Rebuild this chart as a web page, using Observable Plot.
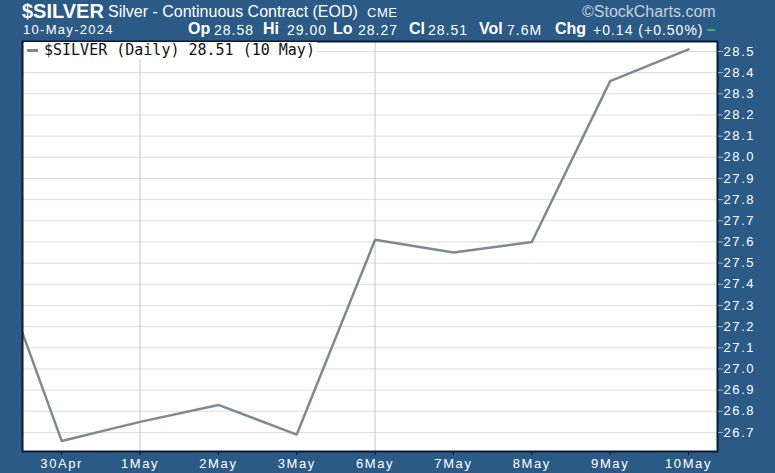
<!DOCTYPE html>
<html>
<head>
<meta charset="utf-8">
<script src="https://cdn.jsdelivr.net/npm/d3@7"></script>
<script src="https://cdn.jsdelivr.net/npm/@observablehq/plot@0.6"></script>
<style>
  html, body { margin: 0; padding: 0; background: #2b5a86; }
  #wrap { position: relative; width: 775px; height: 473px; background: #2b5a86; overflow: hidden; font-family: "Liberation Sans", Arial, sans-serif; color: #fff; }
  #header { position: relative; height: 36px; }
  .abs { position: absolute; white-space: nowrap; }
  .lab { position: absolute; white-space: nowrap; font-weight: bold; font-size: 16px; line-height: 16px; top: 21px; }
  .val { position: absolute; white-space: nowrap; font-size: 14px; line-height: 16px; top: 22px; letter-spacing: 1px; }
  #legend { position: absolute; left: 24px; top: 42px; background: #fff; color: #111; font-family: "DejaVu Sans Mono", monospace; font-size: 15px; padding: 0 2px 0 2px; line-height: 17px; }
  #legend .sw { display: inline-block; width: 11px; height: 3px; background: #7d8a8f; vertical-align: middle; margin-right: 6px; margin-left: 1px; }
  #chart g[aria-label="y-axis tick label"] text, #chart g[aria-label="x-axis tick label"] text { letter-spacing: 1.6px; }
</style>
</head>
<body>
<div id="wrap">
  <div id="header">
    <div class="abs" style="left:22px; top:2px; font-size:20px; font-weight:bold; line-height:19px;">$SILVER</div>
    <div class="abs" style="left:108px; top:3px; font-size:16px; line-height:17px;">Silver - Continuous Contract (EOD)</div>
    <div class="abs" style="left:367px; top:5px; font-size:13px; line-height:15px; letter-spacing:0.5px;">CME</div>
    <div class="abs" style="left:582px; top:3px; font-size:16px; line-height:17px; color:#c6d2de;">©StockCharts.com</div>
    <div class="abs" style="left:23px; top:22px; font-size:13px; line-height:15px; letter-spacing:1.3px;">10-May-2024</div>
    <div id="stats"></div>
  </div>
  <div id="chart" style="position:absolute; left:0; top:36px;"></div>
  <div id="legend"><span class="sw"></span>$SILVER (Daily) 28.51 (10 May)</div>
</div>
<script>
// Trading days (index 0 = 29 Apr, partially clipped at left edge)
const dates = ["29Apr", "30Apr", "1May", "2May", "3May", "6May", "7May", "8May", "9May", "10May"];
const closes = [27.68, 26.66, 26.75, 26.83, 26.69, 27.61, 27.55, 27.60, 28.36, 28.51];
const yTicks = [26.7, 26.8, 26.9, 27.0, 27.1, 27.2, 27.3, 27.4, 27.5, 27.6, 27.7, 27.8, 27.9, 28.0, 28.1, 28.2, 28.3, 28.4, 28.5];
const xTickIdx = [1, 2, 3, 4, 5, 6, 7, 8, 9];
const vGridIdx = [2, 5]; // 1 May (month start), 6 May (week start)
const statsLabels = ["Op", "Hi", "Lo", "Cl", "Vol", "Chg"];
const statsValues = ["28.58", "29.00", "28.27", "28.51", "7.6M", "+0.14 (+0.50%)"];
const statsLabelX = [188, 263, 333, 409, 479, 555];
const statsValueX = [214, 287, 358, 428, 507, 593];

document.getElementById("stats").innerHTML =
  statsLabels.map((l, i) =>
    `<span class="lab" style="left:${statsLabelX[i]}px">${l}</span><span class="val" style="left:${statsValueX[i]}px">${statsValues[i]}</span>`
  ).join("") +
  `<span class="abs" style="left:707px;top:29px;width:8px;height:2px;background:#2fbf3f"></span>`;

const data = dates.map((d, i) => ({i, d, v: closes[i]}));

const chart = Plot.plot({
  width: 775,
  height: 437,
  marginTop: 5,
  marginBottom: 22,
  marginLeft: 22,
  marginRight: 58,
  style: { background: "transparent", fontFamily: "Liberation Sans, Arial, sans-serif", fontSize: "13px", color: "#fff" },
  x: { type: "linear", domain: [0.5, 9.37] },
  y: { domain: [26.61, 28.547] },
  marks: [
    Plot.frame({ fill: "#fff", stroke: "none" }),
    Plot.gridY(yTicks, { stroke: "#dcdcdc", strokeOpacity: 1 }),
    Plot.ruleX(vGridIdx, { stroke: "#c8c8c8", strokeOpacity: 1 }),
    Plot.line(data, { x: "i", y: "v", stroke: "#7d8a8f", strokeWidth: 2.5, clip: true }),
    Plot.frame({ stroke: "#0b1a35", strokeWidth: 2 }),
    Plot.axisY(yTicks, { anchor: "right", tickFormat: d => d.toFixed(1), tickSize: 5, tickPadding: 1, stroke: "#9fb3c8", fill: "#fff", label: null }),
    Plot.axisX(xTickIdx, { anchor: "bottom", tickFormat: i => dates[i], tickSize: 4, tickPadding: 3, stroke: "#0b1a35", fill: "#fff", label: null })
  ]
});
document.getElementById("chart").appendChild(chart);
</script>
</body>
</html>
